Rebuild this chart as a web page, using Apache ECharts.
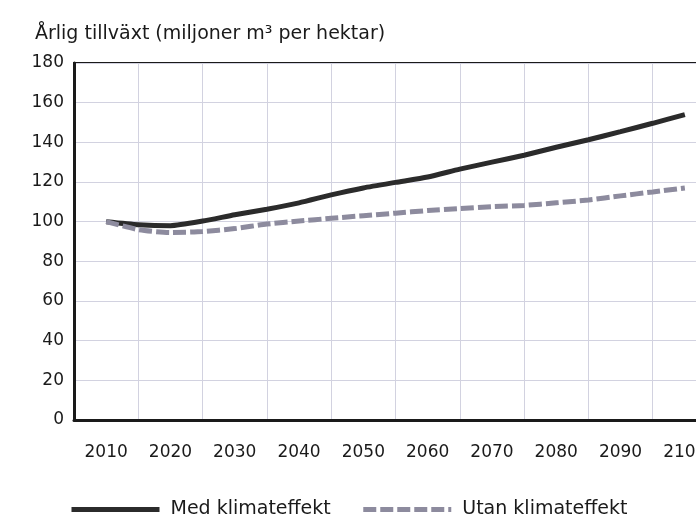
<!DOCTYPE html>
<html>
<head>
<meta charset="utf-8">
<script src="https://cdn.jsdelivr.net/npm/echarts@6/dist/echarts.min.js"></script>
<style>
  html, body { margin: 0; padding: 0; background: #fff; overflow: hidden; }
  /* the scanned plot runs past the right edge, so the canvas is wider than the window */
  #chart { width: 720px; height: 519px; }
</style>
</head>
<body>
<div id="chart"></div>
<script>
// decade tick labels on the category axis
var decades = ['2010', '2020', '2030', '2040', '2050', '2060', '2070', '2080', '2090', '2100'];
// five-year points
var years = [2010, 2015, 2020, 2025, 2030, 2035, 2040, 2045, 2050, 2055, 2060, 2065, 2070, 2075, 2080, 2085, 2090, 2095, 2100];
var medKlimat = [100, 98.5, 98, 100.3, 103.5, 106.3, 109.5, 113.5, 117, 119.8, 122.5, 126.5, 130, 133.5, 137.5, 141.3, 145.4, 149.6, 154];
var utanKlimat = [100, 96, 94.5, 95, 96.5, 98.8, 100.3, 101.7, 103, 104.3, 105.6, 106.6, 107.6, 108.2, 109.5, 110.9, 113, 115, 117];

function pairs(vals) {
  return years.map(function (y, i) { return [y, vals[i]]; });
}

var font = 'DejaVu Sans';
var chart = echarts.init(document.getElementById('chart'));
var option = {
  animation: false,
  backgroundColor: '#fff',
  title: {
    text: 'Årlig tillväxt (miljoner m³ per hektar)',
    left: 30,
    top: 20,
    textStyle: { fontFamily: font, fontSize: 19, fontWeight: 'normal', color: '#1a1a1a' }
  },
  legend: {
    left: 64,
    top: 495,
    itemWidth: 88,
    itemHeight: 20,
    itemGap: 30,
    textStyle: { fontFamily: font, fontSize: 19, color: '#1a1a1a', padding: [0, 0, 0, 6] },
    data: [
      { name: 'Med klimateffekt', itemStyle: { opacity: 0 }, lineStyle: { width: 5 } },
      { name: 'Utan klimateffekt', itemStyle: { opacity: 0 }, lineStyle: { width: 5 } }
    ]
  },
  grid: {
    left: 74,
    top: 63,
    right: 3,
    bottom: 99,
    show: true,
    borderColor: '#1a1a1a',
    borderWidth: 2,
    backgroundColor: '#fff'
  },
  xAxis: [
    {
      type: 'category',
      data: decades,
      boundaryGap: true,
      axisLine: { show: true, lineStyle: { color: '#1a1a1a', width: 3 } },
      axisTick: { show: false },
      axisLabel: { margin: 24, fontFamily: font, fontSize: 17, color: '#1a1a1a' },
      splitLine: { show: true, lineStyle: { color: '#d2d2e0', width: 1 } }
    },
    {
      type: 'value',
      min: 2005,
      max: 2105,
      show: false
    }
  ],
  yAxis: {
    type: 'value',
    min: 0,
    max: 180,
    interval: 20,
    axisLine: { show: true, lineStyle: { color: '#1a1a1a', width: 3 } },
    axisTick: { show: false },
    axisLabel: { margin: 10, fontFamily: font, fontSize: 17, color: '#1a1a1a' },
    splitLine: { show: true, lineStyle: { color: '#d2d2e0', width: 1 } }
  },
  series: [
    {
      name: 'Med klimateffekt',
      type: 'line',
      xAxisIndex: 1,
      symbol: 'none',
      smooth: 0.2,
      data: pairs(medKlimat),
      lineStyle: { color: '#2b2b2b', width: 5 },
      itemStyle: { color: '#2b2b2b' }
    },
    {
      name: 'Utan klimateffekt',
      type: 'line',
      xAxisIndex: 1,
      symbol: 'none',
      smooth: 0.2,
      data: pairs(utanKlimat),
      lineStyle: { color: '#8d8b9e', width: 5, type: [13, 4] },
      itemStyle: { color: '#8d8b9e' }
    }
  ]
};
chart.setOption(option);
</script>
</body>
</html>
